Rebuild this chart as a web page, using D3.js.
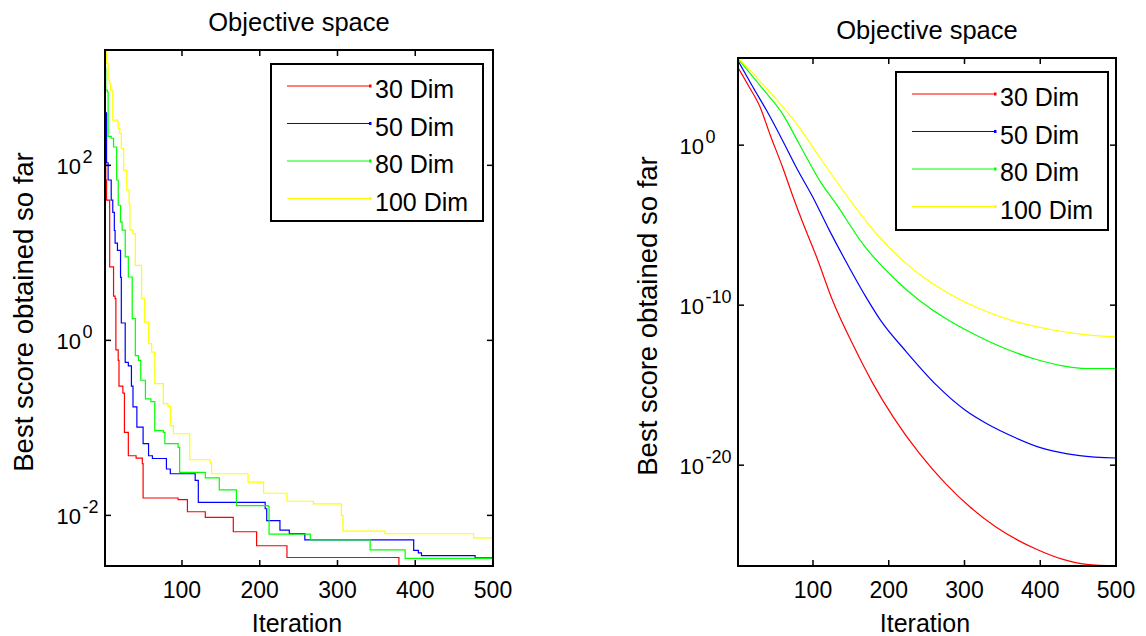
<!DOCTYPE html>
<html>
<head>
<meta charset="utf-8">
<script src="https://cdn.jsdelivr.net/npm/d3@7.9.0/dist/d3.min.js"></script>
<style>
  body { margin: 0; background: #fff; }
  svg { display: block; font-family: "Liberation Sans", Arial, sans-serif; }
</style>
</head>
<body>
<svg id="chart" width="1146" height="636"></svg>
<script>
const dims = ['30 Dim', '50 Dim', '80 Dim', '100 Dim'];
const colors = ['#ff0000', '#0000ff', '#00ff00', '#ffff00'];
const xTicks = [100, 200, 300, 400, 500];
const leftYTicks = [1e-2, 1e0, 1e2];
const rightYTicks = [1e-20, 1e-10, 1e0];

// left panel: best score so far, [iteration, value] where the value changes
const left30 = [[1, 148], [2, 68], [3, 40], [7, 6.9], [12, 3.2], [14, 3.0], [15, 0.78], [18, 0.59], [19, 0.30],
  [24, 0.25], [26, 0.089], [31, 0.048], [41, 0.045], [49, 0.039], [50, 0.0158], [95, 0.0151], [107, 0.0110],
  [130, 0.0095], [166, 0.0065], [196, 0.0045], [235, 0.0033], [379, 0.00264], [500, 0.00264]];
const left50 = [[1, 398], [3, 107], [5, 68], [9, 40], [11, 29], [13, 18], [14, 12.9], [17, 10.7], [21, 5.25],
  [22, 1.58], [27, 0.56], [31, 0.51], [35, 0.30], [37, 0.174], [42, 0.102], [50, 0.066], [57, 0.048],
  [62, 0.0447], [80, 0.0339], [85, 0.0299], [117, 0.0251], [121, 0.0141], [207, 0.0119], [209, 0.0087],
  [226, 0.0068], [238, 0.0062], [258, 0.00525], [398, 0.00398], [404, 0.00372], [408, 0.00347],
  [477, 0.00327], [500, 0.00327]];
const left80 = [[1, 1288], [2, 724], [4, 692], [5, 214], [9, 204], [12, 162], [16, 68], [18, 35], [21, 22.6],
  [23, 18.2], [27, 9.0], [31, 5.3], [36, 1.77], [40, 0.67], [44, 0.59], [47, 0.35], [53, 0.215], [60, 0.2],
  [65, 0.093], [76, 0.089], [78, 0.066], [95, 0.060], [97, 0.031], [130, 0.0269], [148, 0.0196],
  [170, 0.0129], [211, 0.0126], [212, 0.0061], [265, 0.00525], [342, 0.00403], [387, 0.00322], [500, 0.00322]];
const left100 = [[1, 2080], [3, 1466], [5, 944], [7, 865], [8, 724], [11, 329], [17, 315], [18, 263], [20, 232],
  [22, 155], [25, 88], [29, 52], [32, 36.6], [33, 18.2], [37, 16.6], [40, 7.2], [48, 3.0], [52, 1.62],
  [57, 0.92], [61, 0.735], [65, 0.32], [76, 0.189], [82, 0.176], [85, 0.106], [89, 0.0857], [110, 0.0432],
  [136, 0.0398], [138, 0.0299], [185, 0.024], [205, 0.0179], [235, 0.0145], [269, 0.01355], [305, 0.01],
  [307, 0.0066], [361, 0.00617], [475, 0.00553], [500, 0.00553]];

// right panel
const right30 = [[1, 7.1e4], [15, 5.0e3], [30, 2.5e2], [43, 5.0], [60, 4.0e-2], [74, 5.4e-4], [87, 1.26e-5],
  [104, 1.26e-7], [126, 1.9e-10], [153, 3.2e-13], [179, 1.3e-15], [206, 1.0e-17], [241, 5.0e-20],
  [276, 6.3e-22], [307, 2.5e-23], [342, 1.3e-24], [395, 5.6e-26], [430, 1.3e-26], [461, 6.3e-27], [500, 5.0e-27]];
const right50 = [[1, 1.9e5], [21, 4.0e3], [39, 1.4e2], [60, 1.9], [78, 4.0e-2], [100, 5.4e-4], [122, 4.4e-6],
  [148, 2.2e-8], [170, 3.2e-10], [190, 1.0e-11], [223, 1.26e-13], [263, 1.0e-15], [302, 2.5e-17],
  [329, 4.0e-18], [368, 5.0e-19], [399, 1.3e-19], [452, 4.0e-20], [500, 2.8e-20]];
const right80 = [[1, 2.5e5], [34, 3.2e3], [60, 87], [82, 1.15], [109, 5.9e-3], [131, 2.0e-4], [166, 6.5e-7],
  [210, 3.5e-9], [241, 1.9e-10], [280, 1.05e-11], [302, 2.8e-12], [351, 2.2e-13],
  [395, 4.0e-14], [430, 1.6e-14], [461, 1.1e-14], [500, 1.1e-14]];
const right100 = [[1, 2.8e5], [34, 6.3e3], [82, 12.6], [109, 0.17], [153, 2.0e-4], [184, 2.8e-6], [219, 5.9e-8],
  [250, 4.0e-9], [284, 4.0e-10], [329, 4.0e-11], [364, 1.05e-11], [417, 2.8e-12],
  [461, 1.4e-12], [500, 1.05e-12]];

const svg = d3.select('#chart');

function drawPanel(opts) {
  const { left, right, top, bottom, series, yTicks, curve, id } = opts;
  const g = svg.append('g');

  const x = d3.scaleLinear().domain([1, 500]).range([left, right]);
  const all = series.flat().map(d => d[1]);
  const y = d3.scaleLog().domain(d3.extent(all)).range([bottom, top]);

  g.append('clipPath').attr('id', id)
    .append('rect').attr('x', left).attr('y', top).attr('width', right - left).attr('height', bottom - top);

  const line = d3.line().x(d => x(d[0])).y(d => y(d[1])).curve(curve);
  series.forEach((s, i) => {
    g.append('path')
      .attr('d', line(s))
      .attr('fill', 'none')
      .attr('stroke', colors[i])
      .attr('stroke-width', 1.2)
      .attr('clip-path', `url(#${id})`);
  });

  // frame
  g.append('rect')
    .attr('x', left).attr('y', top)
    .attr('width', right - left).attr('height', bottom - top)
    .attr('fill', 'none').attr('stroke', '#000').attr('stroke-width', 2);

  const tl = 6;
  xTicks.forEach(t => {
    g.append('line').attr('x1', x(t)).attr('x2', x(t)).attr('y1', bottom).attr('y2', bottom - tl)
      .attr('stroke', '#000').attr('stroke-width', 1.5);
    g.append('line').attr('x1', x(t)).attr('x2', x(t)).attr('y1', top).attr('y2', top + tl)
      .attr('stroke', '#000').attr('stroke-width', 1.5);
    g.append('text').attr('x', x(t)).attr('y', bottom + 32)
      .attr('text-anchor', 'middle').attr('font-size', 23).text(t);
  });

  // y ticks, "10" with exponent like MATLAB
  const supSize = 18;
  const sups = yTicks.map(t => String(Math.round(Math.log10(t))));
  const tmp = g.append('text').attr('font-size', supSize);
  const maxSup = d3.max(sups, s => { tmp.text(s); return tmp.node().getComputedTextLength(); });
  tmp.remove();
  const baseX = left - 8 - maxSup;
  yTicks.forEach((t, i) => {
    const yy = y(t);
    g.append('line').attr('x1', left).attr('x2', left + tl).attr('y1', yy).attr('y2', yy)
      .attr('stroke', '#000').attr('stroke-width', 1.5);
    g.append('line').attr('x1', right).attr('x2', right - tl).attr('y1', yy).attr('y2', yy)
      .attr('stroke', '#000').attr('stroke-width', 1.5);
    g.append('text').attr('x', baseX).attr('y', yy + 9)
      .attr('text-anchor', 'end').attr('font-size', 22).text('10');
    g.append('text').attr('x', baseX + 1.5).attr('y', yy - 2)
      .attr('font-size', supSize).text(sups[i]);
  });

  const cx = (left + right) / 2;
  g.append('text').attr('x', cx).attr('y', top - 19)
    .attr('text-anchor', 'middle').attr('font-size', 25.5).text('Objective space');
  g.append('text').attr('x', cx - 2).attr('y', bottom + 66)
    .attr('text-anchor', 'middle').attr('font-size', 25).text('Iteration');
  g.append('text')
    .attr('transform', `translate(${opts.ylabelX},${(top + bottom) / 2 + 4}) rotate(-90)`)
    .attr('text-anchor', 'middle').attr('font-size', 27.5).text('Best score obtained so far');

  // legend
  const lg = opts.legend;
  g.append('rect').attr('x', lg.x).attr('y', lg.y).attr('width', lg.w).attr('height', lg.h)
    .attr('fill', '#fff').attr('stroke', '#000').attr('stroke-width', 2);
  dims.forEach((d, i) => {
    const ly = lg.y + 22 + i * 37.5;
    g.append('line').attr('x1', lg.x + 16).attr('x2', lg.x + 99).attr('y1', ly).attr('y2', ly)
      .attr('stroke', colors[i]).attr('stroke-width', 1.2);
    g.append('rect').attr('x', lg.x + 98).attr('y', ly - 1.5).attr('width', 2.5).attr('height', 3)
      .attr('fill', colors[i]);
    g.append('text').attr('x', lg.x + 104).attr('y', ly + 12)
      .attr('font-size', 25).text(d);
  });
}

drawPanel({
  id: 'clipL', left: 105, right: 493, top: 50, bottom: 566,
  series: [left30, left50, left80, left100], yTicks: leftYTicks,
  curve: d3.curveStepAfter, ylabelX: 33,
  legend: { x: 271, y: 64, w: 212, h: 157 }
});

drawPanel({
  id: 'clipR', left: 738, right: 1116, top: 58, bottom: 566,
  series: [right30, right50, right80, right100], yTicks: rightYTicks,
  curve: d3.curveMonotoneX, ylabelX: 657,
  legend: { x: 896, y: 72, w: 212, h: 158 }
});
</script>
</body>
</html>
